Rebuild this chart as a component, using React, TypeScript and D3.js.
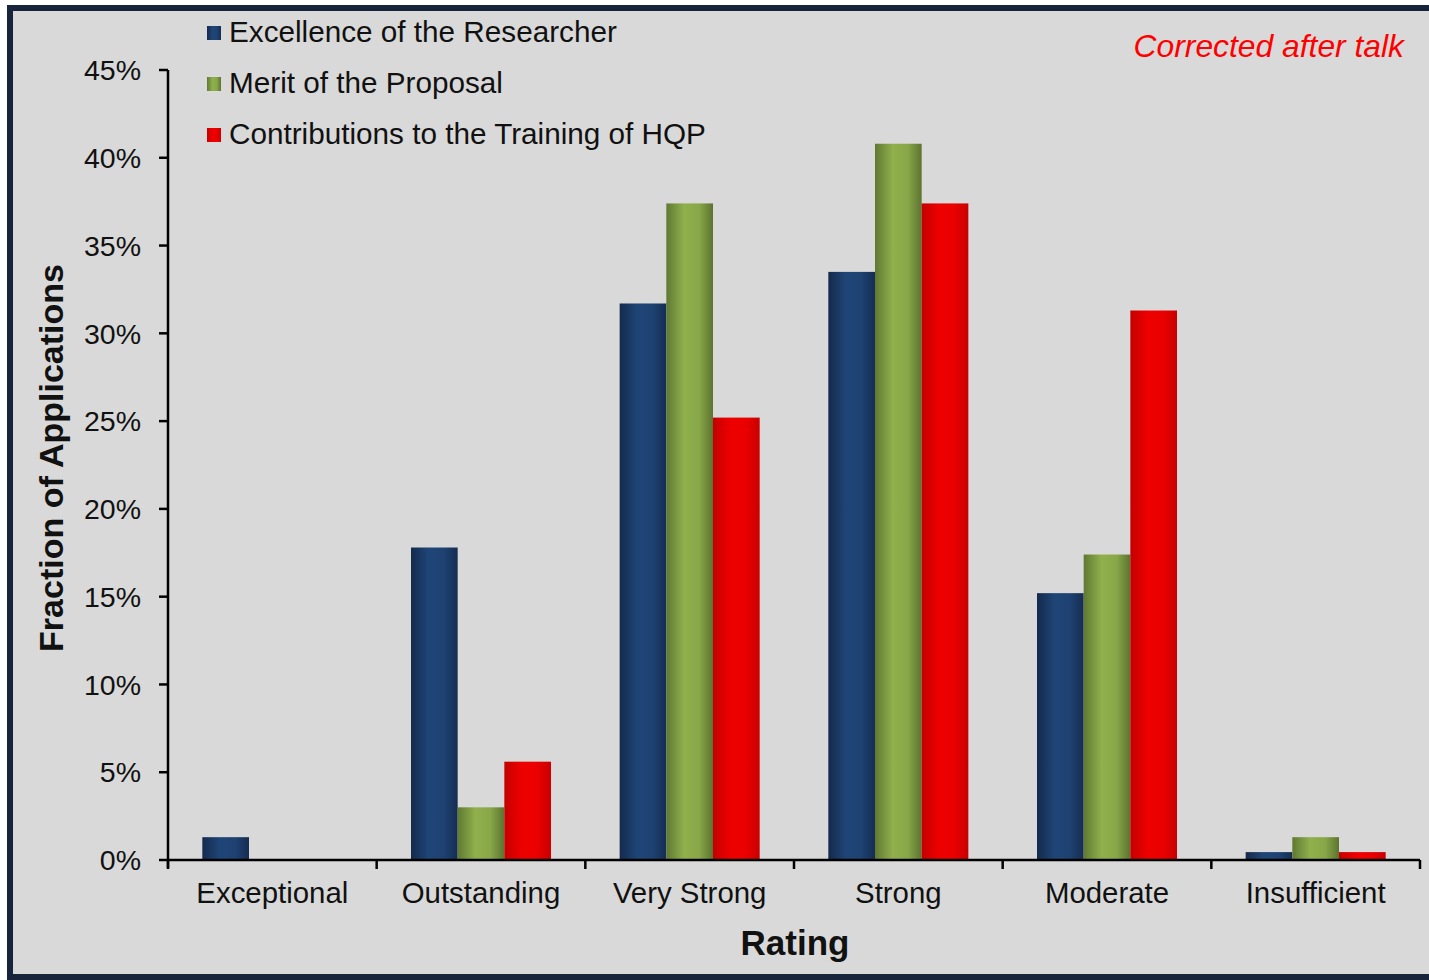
import React from "react";
import * as d3 from "d3";

// Rating categories along the x axis
const categories = ["Exceptional", "Outstanding", "Very Strong", "Strong", "Moderate", "Insufficient"];

// Series names and values (fraction of applications, %)
const seriesNames = [
  "Excellence of the Researcher",
  "Merit of the Proposal",
  "Contributions to the Training of HQP",
];
const excellence = [1.3, 17.8, 31.7, 33.5, 15.2, 0.45];
const merit = [0, 3.0, 37.4, 40.8, 17.4, 1.3];
const training = [0, 5.6, 25.2, 37.4, 31.3, 0.45];
const seriesValues = [excellence, merit, training];

const yTicks = [0, 5, 10, 15, 20, 25, 30, 35, 40, 45];

// Gradient stops per series: dark edge, light centre-left, dark edge
const palettes = [
  { id: "gBlue", stops: ["#142a4d", "#1f4577", "#1e4272", "#152d52"] },
  { id: "gGreen", stops: ["#5f7932", "#8fb04c", "#88a848", "#5c7330"] },
  { id: "gRed", stops: ["#c40000", "#ee0000", "#ea0000", "#c80000"] },
];

const W = 1429;
const H = 980;
const FONT = "'Liberation Sans', Arial, sans-serif";

export default function App() {
  const x0 = 168;
  const x1 = 1420;
  const yBase = 860;
  const yTop = 70;

  const x = d3.scaleBand<string>().domain(categories).range([x0, x1]).paddingInner(0.329).paddingOuter(0.1645);
  const xs = d3.scaleBand<number>().domain([0, 1, 2]).range([0, x.bandwidth()]);
  const y = d3.scaleLinear().domain([0, 45]).range([yBase, yTop]);
  const step = (x1 - x0) / categories.length;
  const boundaries = d3.range(categories.length + 1).map((i) => x0 + i * step);

  return (
    <svg width={W} height={H} style={{ position: "absolute", left: 0, top: 0 }} fontFamily={FONT}>
      <defs>
        {palettes.map((p) => (
          <linearGradient key={p.id} id={p.id} x1="0" x2="1" y1="0" y2="0">
            <stop offset="0" stopColor={p.stops[0]} />
            <stop offset="0.38" stopColor={p.stops[1]} />
            <stop offset="0.7" stopColor={p.stops[2]} />
            <stop offset="1" stopColor={p.stops[3]} />
          </linearGradient>
        ))}
      </defs>
      <rect x={0} y={0} width={W} height={H} fill="#ffffff" />
      {/* framed plot background */}
      <rect x={10} y={8} width={W + 20} height={969} fill="#d9d9d9" stroke="#17243b" strokeWidth={6} />

      {/* bars */}
      {categories.map((c, ci) => (
        <g key={c} transform={`translate(${x(c)},0)`}>
          {seriesValues.map((vals, si) =>
            vals[ci] > 0 ? (
              <rect
                key={si}
                x={xs(si)}
                y={y(vals[ci])}
                width={xs.bandwidth()}
                height={yBase - y(vals[ci])}
                fill={`url(#${palettes[si].id})`}
              />
            ) : null
          )}
        </g>
      ))}

      {/* y axis */}
      <line x1={x0} x2={x0} y1={yTop} y2={yBase + 8} stroke="#000" strokeWidth={2.5} />
      {yTicks.map((t) => (
        <g key={t}>
          <line x1={x0 - 9} x2={x0} y1={y(t)} y2={y(t)} stroke="#000" strokeWidth={2.5} />
          <text x={141} y={y(t)} dy="0.36em" textAnchor="end" fontSize={28.5} fill="#111">
            {t}%
          </text>
        </g>
      ))}

      {/* x axis */}
      <line x1={x0} x2={x1} y1={yBase} y2={yBase} stroke="#000" strokeWidth={2.5} />
      {boundaries.map((b, i) => (
        <line key={i} x1={b} x2={b} y1={yBase} y2={yBase + 9} stroke="#000" strokeWidth={2.5} />
      ))}
      {categories.map((c) => (
        <text key={c} x={(x(c) ?? 0) + x.bandwidth() / 2} y={903} textAnchor="middle" fontSize={29.4} fill="#111">
          {c}
        </text>
      ))}

      {/* axis titles */}
      <text x={795} y={955} textAnchor="middle" fontSize={35} fontWeight="bold" fill="#111">
        Rating
      </text>
      <text
        transform={`translate(63,458) rotate(-90)`}
        textAnchor="middle"
        fontSize={34}
        fontWeight="bold"
        fill="#111"
      >
        Fraction of Applications
      </text>

      {/* legend */}
      {seriesNames.map((n, i) => (
        <g key={n} transform={`translate(207,${42 + i * 51})`}>
          <rect x={0} y={-16} width={14} height={14} fill={`url(#${palettes[i].id})`} />
          <text x={22} y={0} fontSize={29.7} fill="#111">
            {n}
          </text>
        </g>
      ))}

      {/* note */}
      <text x={1404} y={57} textAnchor="end" fontSize={31.8} fontStyle="italic" fill="#ff0000">
        Corrected after talk
      </text>
    </svg>
  );
}
